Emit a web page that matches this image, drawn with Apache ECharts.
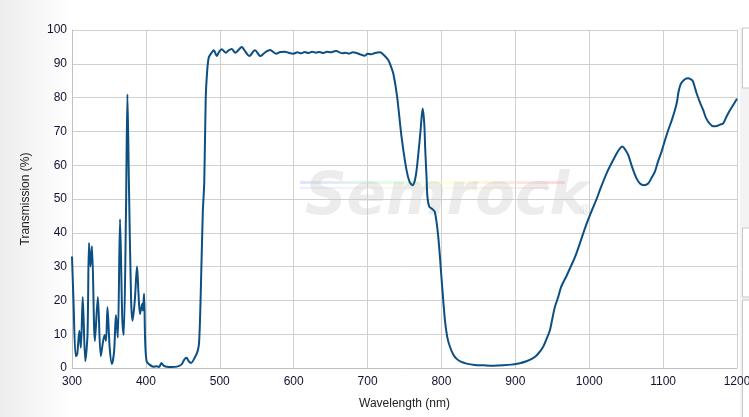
<!DOCTYPE html>
<html><head><meta charset="utf-8">
<script src="https://cdn.jsdelivr.net/npm/echarts@6/dist/echarts.min.js"></script>
<style>html,body{margin:0;padding:0;background:#fff}#c{width:749px;height:417px}</style>
</head><body><div id="c"></div>
<script>
const wavelength = [300,302,305,307,310,312,314.5,318,321,323,325,327,331,335,339,344,346,348,351,354,357,359.5,362,365,368,370,373,375,377,380,382,385,388,390,392,395,396,397.5,399,401,405,410,415,418,421,424,428,435,442,448,452,455,458,461,466,470,472,474,477,479,481,483,485,488,492,496,499,502.6,508,512,516,521,525,529.6,535,540,547.6,555,562,568,576,582,588,594,599.5,605,610,615,620,625,630,635,640,645,650,655,658,662,666,670,675,680,685,690,696.5,700,705,710,716.8,722,728,732,735,740,746,752.7,757,761,764,766.4,769,771.8,774.5,776.7,778,780,781,783.5,786.7,791,795.7,800.3,804.7,808,811.5,816,820.6,827,834,845,856.6,870,883.7,895,906,915,924,930,937.7,943,946.8,950,953.6,958,962,969.4,975,980.7,986,992,997,1003.3,1010,1014.5,1023.5,1030,1034.8,1040,1044.7,1049,1052.9,1058,1064,1069,1074,1079.8,1085,1088.9,1093,1097.9,1102,1107,1112,1116,1119,1120.5,1123,1125,1130,1134,1137,1140,1143,1145.3,1150,1154.3,1158,1163.3,1168,1172.4,1177,1181.4,1185,1188.2,1194,1199.5,1200];
const transmission = [33,20,3.5,4,11,6,21,2,10,37,30,36,8,21,3.5,9.8,8,18,6,1.2,5,15.7,9,44,15,9.8,45,81,55,20,14,20,30,22,16,19,17,22,8,2,1,0.4,0.5,0.3,1.5,0.7,0.4,0.3,0.4,1,2.5,3,2,1.5,3,5,7.5,20,46,55,80,88,91.8,93,94,92.3,93.5,94.3,93.3,94,94.4,93.3,94,95,93.5,92.3,94,92.3,93.5,94.1,93,93.5,93.6,93.2,93,93.4,93.1,93.5,93.2,93.6,93.3,93.5,93.2,93.6,93.4,93.7,93.8,93.4,93.1,93.3,93.0,93.4,93.2,92.8,92.4,93,92.8,93.2,93.4,92.6,91.1,89,87,80.3,68.4,58.6,55,54.1,55.5,58.6,64,70.4,76.8,72.5,65,55.6,50.7,47.7,47.2,46.2,38.8,26,14.2,9,6.3,4,2.7,1.8,1.3,0.9,0.8,0.7,0.8,1,1.4,2,2.9,4,6.3,9,11.2,14.5,18.1,21,24,27.3,30,32.8,36,39.9,43,46.5,50,52.7,57.6,60.5,62.5,64.5,65.5,64.5,63,59.5,56.1,54.5,54.1,54.6,56.5,58.1,61,64,67,70.4,73.5,76.3,79,81.3,83.5,84.4,85.5,85.7,85.5,85,83,81.3,78.5,76.3,74,72.2,71.5,71.6,72,72.4,74,75.4,77.5,79.5,79.7];
const xTicks = [300,400,500,600,700,800,900,1000,1100,1200];
const yTicks = [0,10,20,30,40,50,60,70,80,90,100];
const xName = 'Wavelength (nm)';
const yName = 'Transmission (%)';
const watermark = 'Semrock';

const pairs = wavelength.map((w,i)=>[w, transmission[i]]);
const chart = echarts.init(document.getElementById('c'), null, {renderer:'canvas'});
const font = 'Arial, "Liberation Sans", sans-serif';
chart.setOption({
  animation:false,
  backgroundColor:'#ffffff',
  grid:{left:72, right:12, top:30, bottom:49, containLabel:false, outerBoundsMode:'none'},
  graphic:[
    {type:'rect', z:-10, silent:true, shape:{x:0,y:0,width:72,height:417},
     style:{fill:new echarts.graphic.LinearGradient(0,0,1,0,[{offset:0,color:'#ededed'},{offset:1,color:'#ffffff'}])}},
    {type:'rect', z:-10, silent:true, shape:{x:740,y:28,width:9,height:389}, style:{fill:'#f3f3f3'}},
    {type:'rect', z:-9, silent:true, shape:{x:742.5,y:28,width:10,height:60}, style:{fill:'#ffffff',stroke:'#c8c8c8',lineWidth:1}},
    {type:'rect', z:-9, silent:true, shape:{x:742.5,y:228,width:10,height:69}, style:{fill:'#ffffff',stroke:'#c8c8c8',lineWidth:1}},
    {type:'rect', z:-9, silent:true, shape:{x:742.5,y:300,width:10,height:130}, style:{fill:'#ffffff',stroke:'#c8c8c8',lineWidth:1}},
    {type:'rect', z:1, silent:true, shape:{x:300,y:181,width:265,height:3},
     style:{fill:new echarts.graphic.LinearGradient(0,0,1,0,[{offset:0,color:'rgba(190,200,255,0.5)'},{offset:0.35,color:'rgba(200,255,200,0.5)'},{offset:0.55,color:'rgba(255,255,190,0.5)'},{offset:1,color:'rgba(255,180,180,0.5)'}])}},
    {type:'rect', z:1, silent:true, shape:{x:300,y:187,width:250,height:2},
     style:{fill:new echarts.graphic.LinearGradient(0,0,1,0,[{offset:0,color:'rgba(200,210,255,0.4)'},{offset:0.5,color:'rgba(255,255,200,0.4)'},{offset:1,color:'rgba(255,190,190,0.4)'}])}},
    {type:'text', z:1, silent:true, left:305, top:170,
     style:{text:watermark, font:'italic 900 58px "DejaVu Sans", Arial, sans-serif', fill:'rgba(200,200,200,0.35)'}},
    {type:'text', z:1, silent:true, left:580, top:204,
     style:{text:'®', font:'14px Arial, sans-serif', fill:'rgba(200,200,200,0.5)'}}
  ],
  xAxis:{
    type:'value', min:300, max:1200, interval:100,
    name:xName, nameLocation:'middle', nameGap:30,
    nameTextStyle:{color:'#222', fontSize:12, fontFamily:font},
    axisLine:{show:true, lineStyle:{color:'#c0c0c0', width:1}},
    axisTick:{show:false},
    axisLabel:{color:'#111133', fontSize:12, fontFamily:font, margin:8,
      formatter:v=> xTicks.includes(v) ? String(v) : ''},
    splitLine:{show:true, lineStyle:{color:'#d0d0d0', width:1}}
  },
  yAxis:{
    type:'value', min:0, max:100, interval:10,
    name:yName, nameLocation:'middle', nameGap:40,
    nameTextStyle:{color:'#222', fontSize:12, fontFamily:font},
    axisLine:{show:true, lineStyle:{color:'#c0c0c0', width:1}},
    axisTick:{show:false},
    axisLabel:{color:'#111133', fontSize:12, fontFamily:font, margin:5,
      formatter:v=> yTicks.includes(v) ? String(v) : ''},
    splitLine:{show:true, lineStyle:{color:'#d0d0d0', width:1}}
  },
  series:[{
    type:'line', data:pairs, showSymbol:false, smooth:0.3, z:5,
    lineStyle:{color:'#0c4f82', width:2},
    clip:true
  }]
});
</script></body></html>
